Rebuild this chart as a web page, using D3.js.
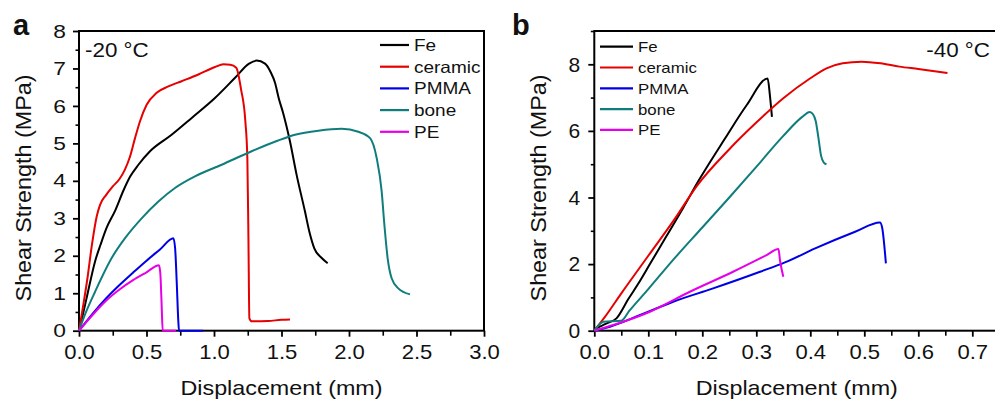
<!DOCTYPE html>
<html>
<head>
<meta charset="utf-8">
<script src="https://cdn.jsdelivr.net/npm/d3@7"></script>
<style>
  html, body { margin: 0; padding: 0; background: #fff; }
  svg text { font-family: "Liberation Sans", Arial, sans-serif; fill: #111; }
</style>
</head>
<body>
<svg id="chart" width="995" height="401"></svg>
<script>
// ---- data ----------------------------------------------------------------
const seriesNames = ["Fe", "ceramic", "PMMA", "bone", "PE"];
const seriesColors = ["#000000", "#e60000", "#0000e6", "#107d7d", "#e600e6"];

// Panel a: -20 °C, [displacement (mm), shear strength (MPa)]
const feMinus20 = [[0,0],[0.03,0.45],[0.063,0.98],[0.119,1.85],[0.16,2.3],[0.205,2.75],[0.267,3.2],[0.33,3.75],[0.38,4.12],[0.44,4.43],[0.526,4.79],[0.686,5.23],[0.835,5.68],[1.007,6.21],[1.156,6.75],[1.26,7.13],[1.316,7.21],[1.378,7.13],[1.42,6.9],[1.452,6.62],[1.48,6.2],[1.513,5.8],[1.563,5.05],[1.612,4.16],[1.674,3.18],[1.706,2.65],[1.743,2.2],[1.798,1.94],[1.842,1.8]];
const ceramicMinus20 = [[0,0],[0.03,0.65],[0.061,1.36],[0.094,2.25],[0.131,3.05],[0.156,3.36],[0.2,3.62],[0.25,3.85],[0.3,4.05],[0.34,4.3],[0.378,4.65],[0.415,5.14],[0.452,5.59],[0.501,6.03],[0.575,6.35],[0.662,6.52],[0.76,6.66],[0.884,6.84],[1.007,7.04],[1.07,7.11],[1.12,7.1],[1.165,7.02],[1.2,6.45],[1.232,5.6],[1.247,4.61],[1.255,2.5],[1.262,0.33],[1.28,0.25],[1.4,0.26],[1.5,0.29],[1.563,0.3]];
const pmmaMinus20 = [[0,0],[0.1,0.45],[0.2,0.86],[0.3,1.22],[0.4,1.55],[0.5,1.87],[0.6,2.17],[0.699,2.47],[0.712,2.2],[0.725,1.2],[0.735,0.3],[0.741,0],[0.92,0]];
const boneMinus20 = [[0,0],[0.05,0.48],[0.119,1.04],[0.242,1.94],[0.341,2.47],[0.464,3.0],[0.588,3.45],[0.711,3.81],[0.859,4.12],[1.057,4.43],[1.279,4.79],[1.47,5.07],[1.6,5.23],[1.773,5.34],[1.946,5.39],[2.069,5.31],[2.156,5.14],[2.205,4.61],[2.242,3.72],[2.262,2.83],[2.286,1.94],[2.316,1.4],[2.365,1.13],[2.452,0.97]];
const peMinus20 = [[0,0],[0.1,0.42],[0.2,0.8],[0.3,1.1],[0.4,1.35],[0.5,1.56],[0.593,1.75],[0.603,1.5],[0.612,0.7],[0.62,0],[0.72,0]];

// Panel b: -40 °C
const feMinus40 = [[0,0.05],[0.023,0.22],[0.041,0.37],[0.063,0.95],[0.081,1.4],[0.103,2.0],[0.134,2.85],[0.165,3.7],[0.193,4.5],[0.242,5.77],[0.282,6.77],[0.321,7.57],[0.325,7.1],[0.329,6.42]];
const ceramicMinus40 = [[0,0],[0.02,0.42],[0.05,1.12],[0.1,2.25],[0.15,3.38],[0.19,4.35],[0.25,5.45],[0.3,6.25],[0.35,6.98],[0.4,7.58],[0.43,7.88],[0.46,8.03],[0.495,8.08],[0.53,8.03],[0.565,7.93],[0.6,7.86],[0.654,7.74]];
const pmmaMinus40 = [[0,0],[0.029,0.12],[0.085,0.47],[0.146,0.87],[0.22,1.27],[0.307,1.77],[0.353,2.05],[0.409,2.47],[0.483,2.97],[0.529,3.25],[0.533,3.1],[0.54,2.02]];
const boneMinus40 = [[0,0],[0.017,0.27],[0.05,0.3],[0.065,0.6],[0.1,1.25],[0.15,2.2],[0.2,3.1],[0.25,4.0],[0.3,4.92],[0.35,5.85],[0.385,6.42],[0.399,6.57],[0.405,6.5],[0.41,6.3],[0.415,5.8],[0.42,5.25],[0.425,5.05],[0.43,5.0]];
const peMinus40 = [[0,0],[0.035,0.17],[0.103,0.57],[0.177,1.17],[0.257,1.77],[0.319,2.27],[0.341,2.45],[0.344,2.1],[0.35,1.62]];

const xTicksA = [0, 0.5, 1.0, 1.5, 2.0, 2.5, 3.0];
const yTicksA = [0, 1, 2, 3, 4, 5, 6, 7, 8];
const xTicksB = [0, 0.1, 0.2, 0.3, 0.4, 0.5, 0.6, 0.7];
const yTicksB = [0, 2, 4, 6, 8];

// ---- drawing -------------------------------------------------------------
const svg = d3.select("#chart");

// widen glyphs horizontally by factor k (fonts here render narrower)
function stretch(sel, k) {
  sel.each(function () {
    const w = this.getComputedTextLength();
    this.setAttribute("textLength", w * k);
    this.setAttribute("lengthAdjust", "spacingAndGlyphs");
  });
}

function panel(cfg) {
  const x = d3.scaleLinear().domain(cfg.xDomain).range([cfg.left, cfg.right]);
  const y = d3.scaleLinear().domain(cfg.yDomain).range([cfg.bottom, cfg.top]);
  const g = svg.append("g");

  // minor ticks
  const xAxisMinor = d3.axisBottom(x).tickValues(cfg.xMinor).tickSize(5).tickFormat("");
  g.append("g").attr("transform", `translate(0,${cfg.bottom})`).call(xAxisMinor)
    .call(s => s.select(".domain").remove())
    .selectAll("line").attr("stroke", "#000").attr("stroke-width", 1.6);
  const yAxisMinor = d3.axisLeft(y).tickValues(cfg.yMinor).tickSize(3.5).tickFormat("");
  g.append("g").attr("transform", `translate(${cfg.left},0)`).call(yAxisMinor)
    .call(s => s.select(".domain").remove())
    .selectAll("line").attr("stroke", "#000").attr("stroke-width", 1.6);

  // major ticks and labels
  const xAxis = d3.axisBottom(x).tickValues(cfg.xTicks).tickSize(6).tickPadding(7)
    .tickFormat(d3.format(cfg.xFmt));
  const gx = g.append("g").attr("transform", `translate(0,${cfg.bottom})`).call(xAxis);
  gx.select(".domain").remove();
  gx.selectAll("line").attr("stroke", "#000").attr("stroke-width", 1.8);
  gx.selectAll("text").attr("font-size", 21).attr("fill", "#111")
    .attr("font-family", "Liberation Sans, Arial, sans-serif").call(stretch, 1.05);

  const yAxis = d3.axisLeft(y).tickValues(cfg.yTicks).tickSize(6).tickPadding(cfg.yPad)
    .tickFormat(d3.format("d"));
  const gy = g.append("g").attr("transform", `translate(${cfg.left},0)`).call(yAxis);
  gy.select(".domain").remove();
  gy.selectAll("line").attr("stroke", "#000").attr("stroke-width", 1.8);
  gy.selectAll("text").attr("font-size", cfg.yFont).attr("fill", "#111")
    .attr("font-family", "Liberation Sans, Arial, sans-serif").call(stretch, cfg.yStretch);

  // frame
  g.append("rect")
    .attr("x", cfg.left).attr("y", cfg.top)
    .attr("width", cfg.right - cfg.left).attr("height", cfg.bottom - cfg.top)
    .attr("fill", "none").attr("stroke", "#000").attr("stroke-width", 2);

  // curves
  const line = d3.line().x(d => x(d[0])).y(d => y(d[1])).curve(d3.curveMonotoneX);
  cfg.series.forEach((s, i) => {
    g.append("path").datum(s).attr("d", line)
      .attr("fill", "none").attr("stroke", seriesColors[i])
      .attr("stroke-width", 2).attr("stroke-linejoin", "round");
  });

  // axis titles
  g.append("text").attr("x", (cfg.left + cfg.right) / 2).attr("y", 395)
    .attr("text-anchor", "middle").attr("font-size", 21)
    .text("Displacement (mm)").call(stretch, 1.11);
  g.append("text")
    .attr("transform", `translate(${cfg.yTitleX},188) rotate(-90)`)
    .attr("text-anchor", "middle").attr("font-size", 22)
    .text("Shear Strength (MPa)").call(stretch, 1.06);

  // panel letter
  g.append("text").attr("x", cfg.letterX).attr("y", 35)
    .attr("font-size", 29).attr("font-weight", "bold").attr("fill", "#000")
    .text(cfg.letter);

  // temperature
  g.append("text").attr("x", cfg.tempX).attr("y", 57)
    .attr("text-anchor", cfg.tempAnchor).attr("font-size", 20)
    .text(cfg.temp).call(stretch, 1.12);

  // legend
  const lg = g.append("g");
  seriesNames.forEach((n, i) => {
    const yy = cfg.legY + i * cfg.legStep;
    lg.append("line").attr("x1", cfg.legX).attr("x2", cfg.legX + cfg.legLen)
      .attr("y1", yy).attr("y2", yy)
      .attr("stroke", seriesColors[i]).attr("stroke-width", 2.2);
    lg.append("text").attr("x", cfg.legX + cfg.legLen + 5).attr("y", yy + cfg.legFont * 0.36)
      .attr("font-size", cfg.legFont).text(n).call(stretch, cfg.legStretch);
  });
}

panel({
  left: 79, right: 484, top: 31, bottom: 330.7,
  xDomain: [0, 3], yDomain: [0, 8],
  xTicks: xTicksA, yTicks: yTicksA,
  xMinor: d3.range(0.25, 3, 0.5), yMinor: d3.range(0.5, 8, 1),
  xFmt: ".1f", yFont: 19, yStretch: 1.2, yPad: 7,
  series: [feMinus20, ceramicMinus20, pmmaMinus20, boneMinus20, peMinus20],
  yTitleX: 31, letter: "a", letterX: 13,
  temp: "-20 °C", tempX: 85, tempAnchor: "start",
  legX: 380, legY: 45, legStep: 21.7, legLen: 29, legFont: 16.5, legStretch: 1.15
});

panel({
  left: 594.3, right: 999.3, top: 31, bottom: 330.7,
  xDomain: [0, 0.75], yDomain: [0, 9],
  xTicks: xTicksB, yTicks: yTicksB,
  xMinor: d3.range(0.05, 0.76, 0.1), yMinor: [1, 3, 5, 7, 9],
  xFmt: ".1f", yFont: 21, yStretch: 1.0, yPad: 8,
  series: [feMinus40, ceramicMinus40, pmmaMinus40, boneMinus40, peMinus40],
  yTitleX: 546, letter: "b", letterX: 512,
  temp: "-40 °C", tempX: 990, tempAnchor: "end",
  legX: 600, legY: 46.7, legStep: 20.8, legLen: 33, legFont: 15, legStretch: 1.12
});
</script>
</body>
</html>
